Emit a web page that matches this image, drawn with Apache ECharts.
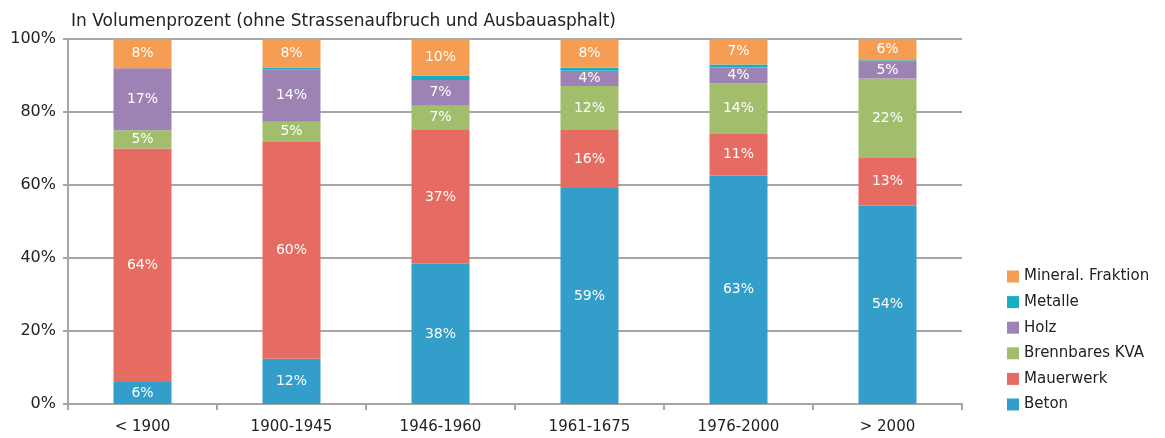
<!DOCTYPE html>
<html>
<head>
<meta charset="utf-8">
<script src="https://cdn.jsdelivr.net/npm/echarts@6/dist/echarts.min.js"></script>
<style>
  html, body { margin: 0; padding: 0; background: #fff; }
  #chart { width: 1165px; height: 438px; }
</style>
</head>
<body>
<div id="chart"></div>
<script>
    // Kategorien (Bauperioden)
    var categories = ['< 1900', '1900-1945', '1946-1960', '1961-1675', '1976-2000', '> 2000'];
    // Anteile in Volumenprozent
    var beton     = [6.0, 12.4, 38.4, 59.2, 62.6, 54.4];
    var mauerwerk = [64.0, 59.6, 36.7, 15.9, 11.4, 13.0];
    var kva       = [5.0, 5.3, 6.6, 12.0, 13.8, 21.8];
    var holz      = [17.0, 14.4, 7.1, 4.2, 4.4, 4.6];
    var metalle   = [0.0, 0.5, 1.1, 0.8, 0.8, 0.4];
    var mineral   = [8.0, 7.8, 10.1, 7.9, 7.0, 5.8];
    var yTicks = [0, 20, 40, 60, 80, 100];

    var textFont = 'DejaVu Sans';
    var myChart = echarts.init(document.getElementById('chart'));

    function makeSeries(name, data, color, showLabel) {
        return {
            name: name,
            type: 'bar',
            stack: 'total',
            barWidth: 58,
            data: data,
            itemStyle: { color: color },
            label: {
                show: showLabel,
                position: 'inside',
                color: '#fff',
                fontFamily: textFont,
                fontSize: 14,
                formatter: function (p) { return Math.round(p.value) + '%'; }
            }
        };
    }

    var option = {
        animation: false,
        title: {
            text: 'In Volumenprozent (ohne Strassenaufbruch und Ausbauasphalt)',
            left: 66,
            top: 8,
            textStyle: { fontFamily: textFont, fontSize: 17, fontWeight: 'normal', color: '#222' }
        },
        legend: {
            orient: 'vertical',
            left: 1002,
            top: 264,
            itemWidth: 12,
            itemHeight: 12,
            itemGap: 10.6,
            icon: 'rect',
            data: ['Mineral. Fraktion', 'Metalle', 'Holz', 'Brennbares KVA', 'Mauerwerk', 'Beton'],
            textStyle: { fontFamily: textFont, fontSize: 15, color: '#222' }
        },
        grid: { left: 68, right: 203, top: 39, bottom: 34 },
        xAxis: {
            type: 'category',
            data: categories,
            axisLine: { lineStyle: { color: '#a6a6a6', width: 2 } },
            axisTick: { show: true, length: 6, lineStyle: { color: '#a6a6a6', width: 2 } },
            axisLabel: { fontFamily: textFont, fontSize: 15, color: '#222', margin: 16 }
        },
        yAxis: {
            type: 'value',
            min: yTicks[0],
            max: yTicks[yTicks.length - 1],
            interval: 20,
            axisLine: { show: true, lineStyle: { color: '#a6a6a6', width: 2 } },
            axisTick: { show: true, length: 5, lineStyle: { color: '#a6a6a6', width: 2 } },
            splitLine: { lineStyle: { color: '#a6a6a6', width: 2 } },
            axisLabel: { fontFamily: textFont, fontSize: 16, color: '#222', margin: 12, formatter: '{value}%' }
        },
        series: [
            makeSeries('Beton', beton, '#339eca', true),
            makeSeries('Mauerwerk', mauerwerk, '#e66b63', true),
            makeSeries('Brennbares KVA', kva, '#a2be6c', true),
            makeSeries('Holz', holz, '#9d83b4', true),
            makeSeries('Metalle', metalle, '#17aec1', false),
            makeSeries('Mineral. Fraktion', mineral, '#f59d52', true)
        ]
    };
    myChart.setOption(option);
</script>
</body>
</html>
